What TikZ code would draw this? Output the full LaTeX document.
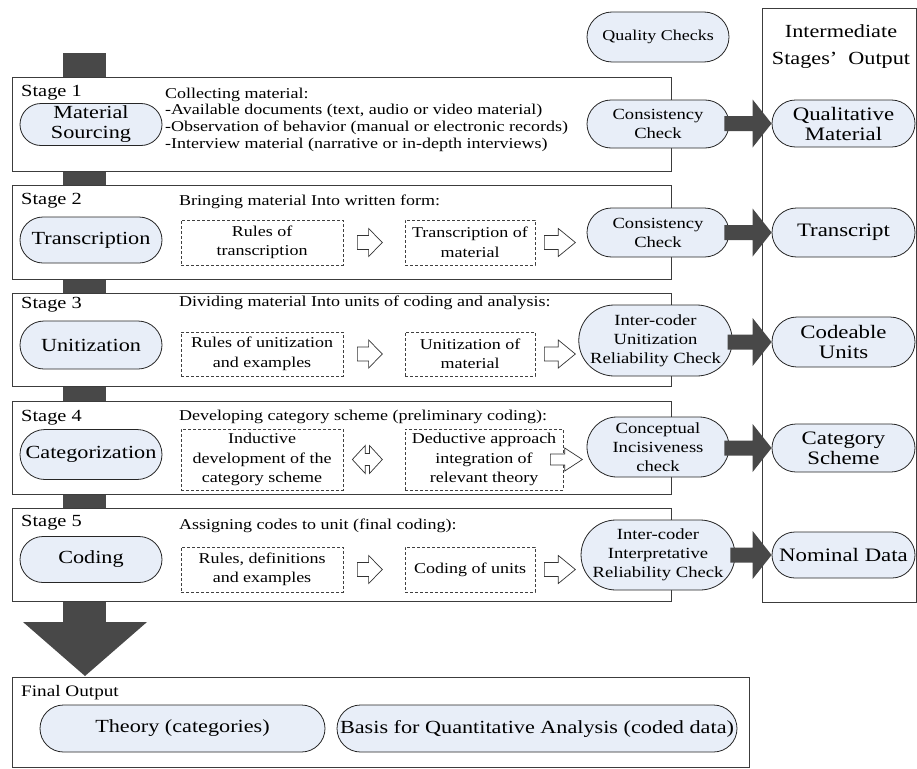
\documentclass[tikz,border=0pt]{standalone}
\usepackage{fontspec}
\setmainfont{LiberationSerif}[Extension=.ttf, UprightFont=*-Regular, BoldFont=*-Bold, ItalicFont=*-Italic, FakeStretch=1.2]
\usetikzlibrary{shapes.misc,calc}
\definecolor{pillfill}{RGB}{232,238,248}
\definecolor{darkc}{RGB}{72,72,72}
\definecolor{linec}{RGB}{60,60,60}
\newcommand\hollowArr[4]{\draw[hollowsty] (#1) ++(0,-#4) -- ++({0.45*#2},0) -- ++(0,{#4-#3}) -- ++({0.55*#2},#3) -- ++({-0.55*#2},#3) -- ++(0,{#4-#3}) -- ++({-0.45*#2},0) -- cycle;}
\newcommand\doubleArr[4]{\draw[hollowsty] (#1) -- ++({0.43*#2},-#3) -- ++(0,{#3-#4}) -- ++({0.14*#2},0) -- ++(0,{#4-#3}) -- ++({0.43*#2},#3) -- ++({-0.43*#2},#3) -- ++(0,{#4-#3}) -- ++({-0.14*#2},0) -- ++(0,{#3-#4}) -- cycle;}
\newcommand\myDark[2]{\fill[darkc] ([xshift=-5pt,yshift=7.5pt]#1.east |- #2.west) -- ([xshift=-19pt,yshift=7.5pt]#2.west) -- ([xshift=-19pt,yshift=24pt]#2.west) -- (#2.west) -- ([xshift=-19pt,yshift=-24pt]#2.west) -- ([xshift=-19pt,yshift=-7.5pt]#2.west) -- ([xshift=-5pt,yshift=-7.5pt]#1.east |- #2.west) -- cycle;}
\begin{document}
\begin{tikzpicture}[x=1pt,y=-1pt,
 pill/.style={rounded rectangle, draw=black!85, fill=pillfill, line width=0.8pt, inner sep=0pt, align=center},
 bigpill/.style={pill, font=\fontsize{18.5}{20}\selectfont},
 chkpill/.style={pill, font=\fontsize{15.5}{19}\selectfont},
 stagebox/.style={draw=linec, fill=white, line width=0.9pt},
 dbox/.style={draw=black!75, dashed, dash pattern=on 3pt off 2pt, line width=0.7pt, inner sep=0pt, align=center, font=\fontsize{15}{19.5}\selectfont},
 hollowsty/.style={draw=black!80, fill=white, line width=0.7pt, line join=miter},
 stagelbl/.style={anchor=west, inner sep=0pt, font=\fontsize{17}{19}\selectfont},
 header/.style={anchor=west, inner sep=0pt, align=left, font=\fontsize{15}{16.7}\selectfont},
 ]
\useasboundingbox (0,0) rectangle (917,768);
% central dark bar and big down arrow
\fill[darkc] (63,53) rectangle (106,622);
\fill[darkc] (23,622) -- (147,622) -- (85,676) -- cycle;
% stage boxes
\draw[stagebox] (12,77.7) rectangle (671,171);
\draw[stagebox] (12,185.7) rectangle (671,279);
\draw[stagebox] (12,293) rectangle (671,386.7);
\draw[stagebox] (12,401) rectangle (671,494);
\draw[stagebox] (12,508) rectangle (671,601.7);
% right box
\draw[linec, line width=0.9pt] (762,8) rectangle (916,602);
\node[inner sep=0pt, align=center, font=\fontsize{18.5}{27}\selectfont] (iso) at (841,46.5) {Intermediate\\Stages’\ \ Output};
% final box
\draw[stagebox] (12,677) rectangle (749,767);
\node[stagelbl, font=\fontsize{16}{18}\selectfont] (fo) at (21,693) {Final Output};

% stage labels
\node[stagelbl] (s1) at (21,93) {Stage 1};
\node[stagelbl] (s2) at (21,201) {Stage 2};
\node[stagelbl] (s3) at (21,305) {Stage 3};
\node[stagelbl] (s4) at (21,418) {Stage 4};
\node[stagelbl] (s5) at (21,523) {Stage 5};

% headers
\node[header] (h1) at (165,119.5) {Collecting material:\\-Available documents (text, audio or video material)\\-Observation of behavior (manual or electronic records)\\-Interview material (narrative or in-depth interviews)};
\node[header] (h2) at (179,202) {Bringing material Into written form:};
\node[header] (h3) at (179,303) {Dividing material Into units of coding and analysis:};
\node[header] (h4) at (179,417) {Developing category scheme (preliminary coding):};
\node[header] (h5) at (179,526) {Assigning codes to unit (final coding):};

% left pills
\node[bigpill, minimum width=142pt, minimum height=42pt] (ms) at (91,124.5) {Material\\Sourcing};
\node[bigpill, minimum width=142pt, minimum height=46pt] (tr) at (91,240) {Transcription};
\node[bigpill, minimum width=142pt, minimum height=48pt] (un) at (91,345) {Unitization};
\node[bigpill, minimum width=142pt, minimum height=50pt] (cat) at (91,454.5) {Categorization};
\node[bigpill, minimum width=142pt, minimum height=46pt] (cod) at (91,559.5) {Coding};

% dashed boxes
\node[dbox, minimum width=162pt, minimum height=45pt] (rt2) at (262,242.5) {Rules of\\transcription};
\node[dbox, minimum width=130pt, minimum height=45pt] (tm2) at (470,242.5) {Transcription of\\material};
\node[dbox, minimum width=162pt, minimum height=44pt] (ru3) at (262,354) {Rules of unitization\\and examples};
\node[dbox, minimum width=130pt, minimum height=44pt] (um3) at (470,354) {Unitization of\\material};
\node[dbox, minimum width=162pt, minimum height=61pt] (id4) at (262,459.5) {Inductive\\development of the\\category scheme};
\node[dbox, minimum width=158pt, minimum height=61pt] (da4) at (484,459.5) {Deductive approach\\integration of\\relevant theory};
\node[dbox, minimum width=162pt, minimum height=45pt] (rd5) at (262,569.5) {Rules, definitions\\and examples};
\node[dbox, minimum width=130pt, minimum height=45pt] (cu5) at (470,569.5) {Coding of units};

% hollow arrows
\hollowArr{[xshift=14pt]rt2.east}{25}{14}{7}
\hollowArr{[xshift=9pt]tm2.east}{31}{14}{7}
\hollowArr{[xshift=14pt]ru3.east}{25}{14}{7}
\hollowArr{[xshift=9pt]um3.east}{31}{14}{7}
\doubleArr{[xshift=9pt]id4.east}{30}{14}{6}
\hollowArr{[xshift=-13pt]da4.east}{32}{11.5}{5.5}
\hollowArr{[xshift=14pt]rd5.east}{25}{14}{7}
\hollowArr{[xshift=9pt]cu5.east}{31}{14}{7}

% output pills
\node[bigpill, font=\fontsize{19}{20}\selectfont, minimum width=143pt, minimum height=47pt] (qm) at (843.5,123.5) {Qualitative\\Material};
\node[bigpill, font=\fontsize{19}{20}\selectfont, minimum width=143pt, minimum height=49pt] (ts) at (843.5,232.5) {Transcript};
\node[bigpill, font=\fontsize{19}{20}\selectfont, minimum width=143pt, minimum height=50pt] (cu) at (843.5,342) {Codeable\\Units};
\node[bigpill, font=\fontsize{19}{20}\selectfont, minimum width=143pt, minimum height=48pt] (cs) at (843.5,448) {Category\\Scheme};
\node[bigpill, font=\fontsize{19}{20}\selectfont, minimum width=143pt, minimum height=46pt] (nd) at (843.5,555) {Nominal Data};

% check pills
\node[chkpill, font=\fontsize{15}{17}\selectfont, minimum width=142pt, minimum height=50pt] (qc) at (658,37) {Quality Checks};
\node[chkpill, minimum width=142pt, minimum height=48pt] (cc1) at (658,124) {Consistency\\Check};
\node[chkpill, minimum width=142pt, minimum height=49pt] (cc2) at (658,232.5) {Consistency\\Check};
\node[chkpill, minimum width=147pt, minimum height=71pt] (ir3) at (655.5,340.5) {Inter-coder\\Unitization\\Reliability Check};
\node[chkpill, minimum width=142pt, minimum height=60pt] (ci4) at (658,447) {Conceptual\\Incisiveness\\check};
\node[chkpill, minimum width=142pt, minimum height=70pt] (ir5) at (658,555) {Inter-coder\\Interpretative\\Reliability Check};

% dark arrows
\myDark{cc1}{qm}
\myDark{cc2}{ts}
\myDark{ir3}{cu}
\myDark{ci4}{cs}
\myDark{ir5}{nd}

% final output pills
\node[bigpill, minimum width=285pt, minimum height=47pt] (th) at (182.5,728.5) {Theory (categories)};
\node[bigpill, minimum width=400pt, minimum height=47pt] (bq) at (537,728.5) {Basis for Quantitative Analysis (coded data)};
\end{tikzpicture}
\end{document}
